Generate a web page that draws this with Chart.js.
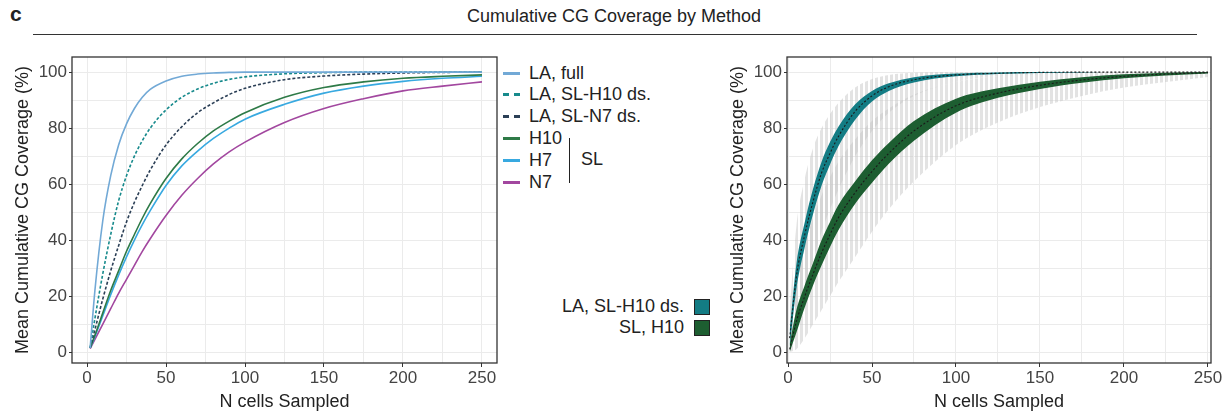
<!DOCTYPE html>
<html>
<head>
<meta charset="utf-8">
<script src="https://cdn.jsdelivr.net/npm/chart.js@4"></script>
<style>
  body { margin: 0; width: 1228px; height: 415px; background: #fff; position: relative; overflow: hidden;
         font-family: "Liberation Sans", Arial, sans-serif; color: #222; }
  .abs { position: absolute; }
  #panelLabel { left: 10px; top: 2px; font-size: 21px; font-weight: bold; }
  #title { left: 0; width: 1228px; top: 6px; text-align: center; font-size: 18px; }
  #rule { left: 33px; top: 34px; width: 1164px; height: 0; border-top: 1.3px solid #333; }
  .leg { font-size: 18px; line-height: 22px; white-space: nowrap; }
  .leg .sw { position: absolute; left: 0; width: 17px; top: 10px; height: 0; }
  .leg .tx { position: absolute; left: 26px; top: 0; }
  #slBar { left: 569px; top: 138px; width: 0; height: 45px; border-left: 1.3px solid #222; }
  #slText { left: 581px; top: 149px; font-size: 18px; }
  .rleg { font-size: 18px; white-space: nowrap; text-align: right; width: 180px; left: 504px; }
  .sq { position: absolute; left: 694px; width: 14px; height: 14px; border: 1px solid #222; }
</style>
</head>
<body>
<div id="panelLabel" class="abs">c</div>
<div id="title" class="abs">Cumulative CG Coverage by Method</div>
<div id="rule" class="abs"></div>

<div class="abs" style="left:0;top:40px;width:500px;height:375px;"><canvas id="left" width="500" height="375"></canvas></div>
<div class="abs" style="left:715px;top:40px;width:513px;height:375px;"><canvas id="right" width="513" height="375"></canvas></div>

<div id="legendLeft"></div>
<div id="slBar" class="abs"></div>
<div id="slText" class="abs">SL</div>

<div class="abs rleg" style="top:296px;">LA, SL-H10 ds.</div>
<div class="sq" style="top:299px;background:#137c84;"></div>
<div class="abs rleg" style="top:317px;">SL, H10</div>
<div class="sq" style="top:320px;background:#1d5e31;"></div>

<script>
// ---- left panel: mean cumulative coverage curves ----
const L_X       = [2, 5, 10, 15, 20, 25, 30, 35, 40, 50, 60, 70, 80, 90, 100, 125, 150, 175, 200, 225, 250];
const LA_FULL   = [1.5, 22, 47, 63, 74, 81.5, 87, 91, 93.8, 96.8, 98.5, 99.3, 99.7, 99.9, 100, 100, 100, 100, 100, 100, 100];
const LA_H10_DS = [1.5, 12, 28, 42, 54, 63, 70, 75.5, 80, 86.5, 91, 94, 96, 97.4, 98.3, 99.4, 99.8, 100, 100, 100, 100];
const LA_N7_DS  = [1.5, 8, 19, 29, 38, 46.5, 53.5, 59.5, 65, 74, 80.5, 85.5, 89, 92, 94.2, 97.3, 98.6, 99.3, 99.7, 99.9, 100];
const SL_H10    = [1.5, 6, 14, 22, 29, 36, 42, 47.8, 53, 62, 69, 74.5, 79, 82.5, 85.5, 91, 94.5, 96.5, 97.8, 98.5, 99];
const SL_H7     = [1.5, 5.5, 13, 20.5, 27.5, 34, 40, 45.5, 50.5, 59.5, 66.5, 71.8, 76.3, 80, 83.2, 88.5, 92.5, 95, 96.7, 97.8, 98.5];
const SL_N7     = [1.2, 4.5, 10, 15.5, 21, 26, 31, 36, 40.5, 48.8, 56, 62, 67.2, 71.5, 75, 82, 87, 90.5, 93.3, 95, 96.5];

// ---- right panel: per-N distribution (whisker low, q1, median, q3, whisker high) ----
const R_X       = [1, 5, 10, 15, 20, 25, 30, 40, 50, 60, 75, 100, 125, 150, 175, 200, 225, 250];
const LA_LO     = [0, 10, 22, 33, 43, 51, 58, 70, 79, 85.5, 91.5, 96.5, 98.5, 99.3, 99.7, 99.9, 100, 100];
const LA_Q1     = [2, 22.5, 37.5, 49.5, 59.5, 67, 73.5, 83, 89.5, 93.3, 96.3, 98.5, 99.3, 99.7, 99.9, 100, 100, 100];
const LA_MED    = [5, 27, 42, 54, 64, 71, 77, 86, 91.5, 94.8, 97.3, 99, 99.6, 99.9, 100, 100, 100, 100];
const LA_Q3     = [8, 31.5, 46.5, 58.5, 68, 75, 80.5, 88.5, 93.3, 96, 98.2, 99.5, 99.9, 100, 100, 100, 100, 100];
const LA_HI     = [15, 45, 62, 73, 80, 85, 89, 94.5, 97.5, 99, 99.8, 100, 100, 100, 100, 100, 100, 100];

const SH_LO     = [0, 1, 5, 10, 15, 20, 25, 34, 43, 51, 61, 74, 82, 87.5, 91.5, 94.5, 96.5, 98.3];
const SH_Q1     = [0, 7, 16, 24, 31, 37.5, 43.5, 53, 60.5, 67.3, 75.5, 85.5, 90.8, 94, 96.2, 97.8, 98.8, 99.5];
const SH_MED    = [1, 11, 20, 28, 35.5, 42, 48, 57, 64.5, 71, 79, 88, 92.5, 95.3, 97.2, 98.5, 99.3, 99.8];
const SH_Q3     = [3, 15, 24, 32, 40, 46.5, 52.5, 61, 68.5, 74.7, 82.5, 90.5, 94.2, 96.6, 98.2, 99.2, 99.8, 100];
const SH_HI     = [8, 25, 38, 48, 56, 62.5, 68, 76, 82.5, 87, 92, 96.5, 98.5, 99.5, 100, 100, 100, 100];

const X_LABELS  = [0, 50, 100, 150, 200, 250];
const X_GRID    = [0, 25, 50, 75, 100, 125, 150, 175, 200, 225, 250];
const Y_LABELS  = [0, 20, 40, 60, 80, 100];
const Y_GRID    = [0, 10, 20, 30, 40, 50, 60, 70, 80, 90, 100];

const LEFT_SERIES = [
  { label: "LA, full",         data: LA_FULL,   color: "#72a9d6", dash: [] },
  { label: "LA, SL-H10 ds.",   data: LA_H10_DS, color: "#178a8c", dash: [3, 2] },
  { label: "LA, SL-N7 ds.",    data: LA_N7_DS,  color: "#2b3f56", dash: [3, 2] },
  { label: "H10",              data: SL_H10,    color: "#2e7a47", dash: [] },
  { label: "H7",               data: SL_H7,     color: "#38a9e0", dash: [] },
  { label: "N7",               data: SL_N7,     color: "#a2479f", dash: [] },
];

const TICK_FONT = { family: "'Liberation Sans', Arial, sans-serif", size: 17 };
const TITLE_FONT = { family: "'Liberation Sans', Arial, sans-serif", size: 18 };

function pts(xs, ys) {
  return xs.map((x, i) => ({ x, y: ys[i] }));
}

// box around the panel, like ggplot's theme_bw
const panelBorder = {
  id: "panelBorder",
  afterDraw(chart) {
    const { ctx, chartArea: a } = chart;
    ctx.save();
    ctx.strokeStyle = "#333";
    ctx.lineWidth = 1.3;
    ctx.strokeRect(a.left, a.top, a.right - a.left, a.bottom - a.top);
    ctx.restore();
  }
};

// vertical stripes, to look like the many thin whiskers
function stripes() {
  const c = document.createElement("canvas");
  c.width = 5; c.height = 4;
  const g = c.getContext("2d");
  g.fillStyle = "rgba(200,200,200,0.5)";
  g.fillRect(0, 0, 3, 4);
  return g.createPattern(c, "repeat");
}

function makeScales(xMin, xMax) {
  return {
    x: {
      type: "linear", min: xMin, max: xMax,
      afterBuildTicks: s => { s.ticks = X_GRID.map(v => ({ value: v })); },
      afterFit: s => { s.height = 52; },
      border: { display: false },
      grid: {
        color: "#ebebeb", lineWidth: 1, tickLength: 4,
        tickColor: c => (c.tick && X_LABELS.includes(c.tick.value)) ? "#333" : "rgba(0,0,0,0)"
      },
      ticks: {
        autoSkip: false, maxRotation: 0, padding: 1, color: "#444", font: TICK_FONT,
        callback: v => X_LABELS.includes(v) ? String(v) : ""
      },
      title: { display: true, text: "N cells Sampled", color: "#222", font: TITLE_FONT, padding: { top: 0, bottom: 2 } }
    },
    y: {
      type: "linear", min: -3.9, max: 105.4,
      afterBuildTicks: s => { s.ticks = Y_GRID.map(v => ({ value: v })); },
      afterFit: s => { s.width = 72; },
      border: { display: false },
      grid: {
        color: "#ebebeb", lineWidth: 1, tickLength: 3,
        tickColor: c => (c.tick && Y_LABELS.includes(c.tick.value)) ? "#333" : "rgba(0,0,0,0)"
      },
      ticks: {
        autoSkip: false, padding: 2, color: "#444", font: TICK_FONT,
        callback: v => Y_LABELS.includes(v) ? String(v) : ""
      },
      title: { display: true, text: "Mean Cumulative CG Coverage (%)", color: "#222", font: TITLE_FONT, padding: { top: 12, bottom: 0 } }
    }
  };
}

const commonOpts = {
  responsive: false,
  animation: false,
  events: [],
  plugins: { legend: { display: false }, tooltip: { enabled: false } },
  elements: { point: { radius: 0 } }
};

// left chart
new Chart(document.getElementById("left"), {
  type: "line",
  data: {
    datasets: LEFT_SERIES.map(s => ({
      label: s.label,
      data: pts(L_X, s.data),
      borderColor: s.color,
      borderWidth: 1.6,
      borderDash: s.dash,
      cubicInterpolationMode: "monotone",
      fill: false
    }))
  },
  options: Object.assign({}, commonOpts, {
    layout: { padding: { top: 17, right: 3, bottom: 0, left: 0 } },
    scales: makeScales(-9.5, 259.5)
  }),
  plugins: [panelBorder]
});

// left legend (HTML)
const legendTops = [62, 83, 105, 127, 149, 171];
const legEl = document.getElementById("legendLeft");
LEFT_SERIES.forEach((s, i) => {
  const d = document.createElement("div");
  d.className = "abs leg";
  d.style.left = "503px";
  d.style.top = legendTops[i] + "px";
  const style = s.dash.length ? "dashed" : "solid";
  d.innerHTML = `<span class="sw" style="border-top:3px ${style} ${s.color}"></span><span class="tx">${s.label}</span>`;
  legEl.appendChild(d);
});

// right chart
function ribbon(lo, hi, color, order) {
  return [
    { data: pts(R_X, hi), borderWidth: 0, borderColor: "rgba(0,0,0,0)", fill: false, order, cubicInterpolationMode: "monotone" },
    { data: pts(R_X, lo), borderWidth: 0, borderColor: "rgba(0,0,0,0)", backgroundColor: color, fill: "-1", order, cubicInterpolationMode: "monotone" }
  ];
}
function median(ys) {
  return { data: pts(R_X, ys), borderColor: "#1a1a1a", borderWidth: 1.1, borderDash: [2, 2], fill: false, order: 1, cubicInterpolationMode: "monotone" };
}

const grey = stripes();
new Chart(document.getElementById("right"), {
  type: "line",
  data: {
    datasets: [
      ...ribbon(LA_LO, LA_HI, grey, 5),
      ...ribbon(SH_LO, SH_HI, grey, 5),
      ...ribbon(LA_Q1, LA_Q3, "#137c84", 3),
      ...ribbon(SH_Q1, SH_Q3, "#1d5e31", 3),
      median(LA_MED),
      median(SH_MED)
    ]
  },
  options: Object.assign({}, commonOpts, {
    layout: { padding: { top: 17, right: 17, bottom: 0, left: 0 } },
    scales: makeScales(-0.6, 251.8)
  }),
  plugins: [panelBorder]
});
</script>
</body>
</html>
